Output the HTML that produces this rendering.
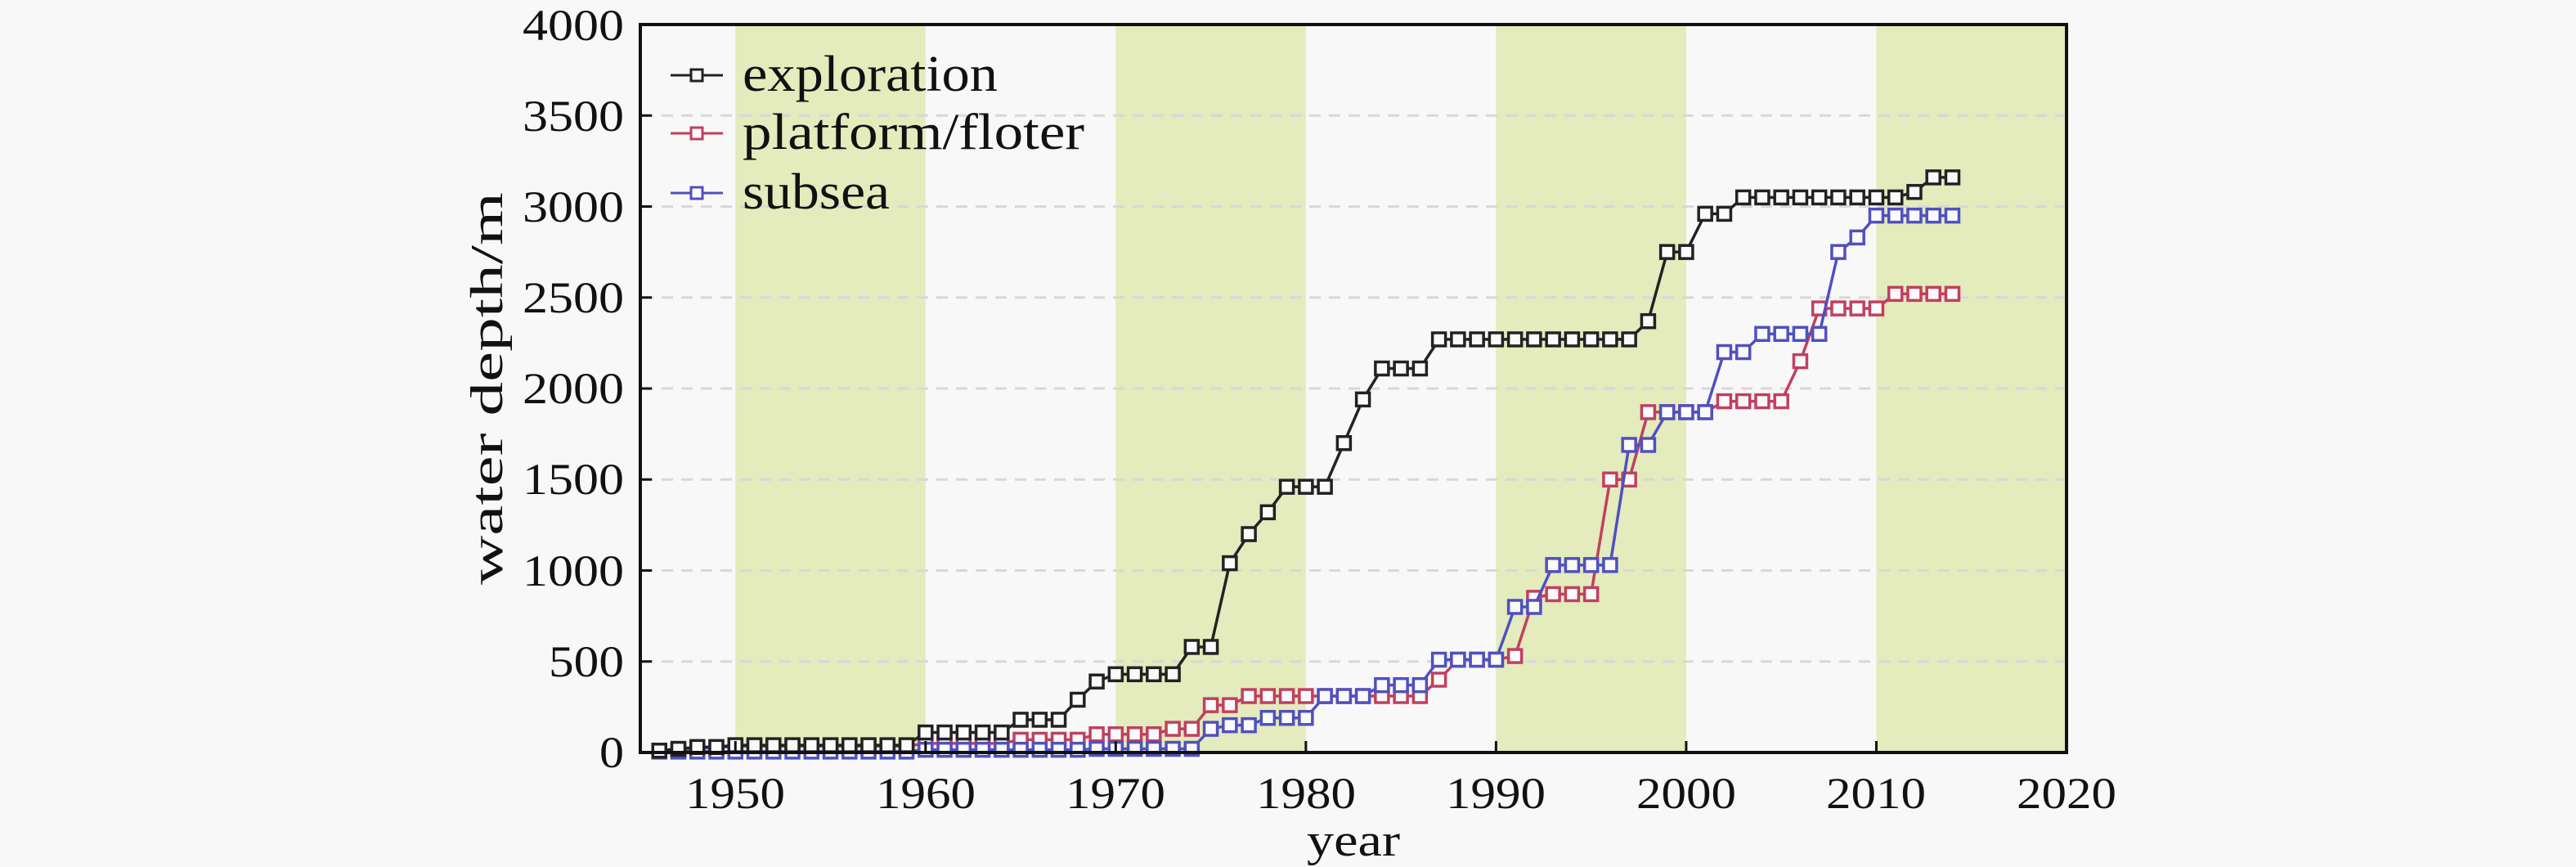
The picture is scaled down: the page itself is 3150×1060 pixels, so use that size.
<!DOCTYPE html>
<html><head><meta charset="utf-8"><style>
html,body{margin:0;padding:0;background:#f8f8f8;}
svg{display:block;}
text{font-family:"Liberation Serif",serif;fill:#111;}
</style></head><body>
<svg id="s" width="3150" height="1060" xmlns="http://www.w3.org/2000/svg">
<rect width="3150" height="1060" fill="#f8f8f8"/>
<g id="bands"></g>
<g id="grid"></g>
<g id="series"></g>
<rect x="783" y="30" width="1744" height="890" fill="none" stroke="#111" stroke-width="4"/>
<g id="ticks"></g>
<g font-size="54" text-anchor="end">
<text x="763" y="938" textLength="30" lengthAdjust="spacingAndGlyphs">0</text>
<text x="763" y="827" textLength="92" lengthAdjust="spacingAndGlyphs">500</text>
<text x="763" y="716" textLength="124" lengthAdjust="spacingAndGlyphs">1000</text>
<text x="763" y="604" textLength="124" lengthAdjust="spacingAndGlyphs">1500</text>
<text x="763" y="493" textLength="124" lengthAdjust="spacingAndGlyphs">2000</text>
<text x="763" y="382" textLength="124" lengthAdjust="spacingAndGlyphs">2500</text>
<text x="763" y="271" textLength="124" lengthAdjust="spacingAndGlyphs">3000</text>
<text x="763" y="160" textLength="124" lengthAdjust="spacingAndGlyphs">3500</text>
<text x="763" y="49" textLength="124" lengthAdjust="spacingAndGlyphs">4000</text>
</g>
<g font-size="54" text-anchor="middle">
<text x="899" y="988" textLength="122" lengthAdjust="spacingAndGlyphs">1950</text>
<text x="1132" y="988" textLength="122" lengthAdjust="spacingAndGlyphs">1960</text>
<text x="1364" y="988" textLength="122" lengthAdjust="spacingAndGlyphs">1970</text>
<text x="1597" y="988" textLength="122" lengthAdjust="spacingAndGlyphs">1980</text>
<text x="1829" y="988" textLength="122" lengthAdjust="spacingAndGlyphs">1990</text>
<text x="2062" y="988" textLength="122" lengthAdjust="spacingAndGlyphs">2000</text>
<text x="2294" y="988" textLength="122" lengthAdjust="spacingAndGlyphs">2010</text>
<text x="2527" y="988" textLength="122" lengthAdjust="spacingAndGlyphs">2020</text>
</g>
<text x="1655" y="1046" font-size="56" text-anchor="middle" textLength="114" lengthAdjust="spacingAndGlyphs">year</text>
<text transform="translate(614,475) rotate(-90)" font-size="56" text-anchor="middle" textLength="480" lengthAdjust="spacingAndGlyphs">water depth/m</text>
<g font-size="62">
<line x1="820" y1="92" x2="884" y2="92" stroke="#222" stroke-width="3"/><rect x="845" y="85" width="14" height="14" fill="#fff" stroke="#222" stroke-width="3"/>
<text x="908" y="111" textLength="312" lengthAdjust="spacingAndGlyphs">exploration</text>
<line x1="820" y1="163" x2="884" y2="163" stroke="#c04060" stroke-width="3"/><rect x="845" y="156" width="14" height="14" fill="#fff" stroke="#c04060" stroke-width="3"/>
<text x="908" y="182" textLength="418" lengthAdjust="spacingAndGlyphs">platform/floter</text>
<line x1="820" y1="236" x2="884" y2="236" stroke="#5050c0" stroke-width="3"/><rect x="845" y="229" width="14" height="14" fill="#fff" stroke="#5050c0" stroke-width="3"/>
<text x="908" y="255" textLength="180" lengthAdjust="spacingAndGlyphs">subsea</text>
</g>
</svg>
<script>
var NS="http://www.w3.org/2000/svg";
function X(y){return 783+(y-1945)*23.253;}
function Y(v){return 920-v*0.2225;}
function el(t,a,p){var e=document.createElementNS(NS,t);for(var k in a)e.setAttribute(k,a[k]);document.getElementById(p).appendChild(e);return e;}
[1950,1970,1990,2010].forEach(function(b){el('rect',{x:X(b),y:32,width:X(b+10)-X(b),height:886,fill:'#e4ebbc'},'bands');});
for(var v=500;v<4000;v+=500)el('line',{x1:785,x2:2525,y1:Y(v),y2:Y(v),stroke:'#d8d8d8','stroke-width':3,'stroke-dasharray':'14 10'},'grid');
for(var v=0;v<=4000;v+=500)el('line',{x1:783,x2:797,y1:Y(v),y2:Y(v),stroke:'#111','stroke-width':3},'ticks');
for(var y=1950;y<=2020;y+=10)el('line',{x1:X(y),x2:X(y),y1:920,y2:906,stroke:'#111','stroke-width':3},'ticks');
function expand(segs){var o={};segs.forEach(function(s){for(var y=s[0];y<=s[1];y++)o[y]=s[2];});return o;}
var ex=expand([[1946,1946,10],[1947,1947,20],[1948,1949,30],[1950,1959,40],[1960,1964,110],[1965,1967,180],[1968,1968,290],[1969,1969,390],[1970,1973,430],[1974,1975,580],[1976,1976,1040],[1977,1977,1200],[1978,1978,1320],[1979,1981,1460],[1982,1982,1700],[1983,1983,1940],[1984,1986,2110],[1987,1997,2270],[1998,1998,2370],[1999,2000,2750],[2001,2002,2960],[2003,2011,3050],[2012,2012,3080],[2013,2014,3160]]);
var pf=expand([[1946,1947,10],[1948,1949,25],[1950,1959,35],[1960,1964,50],[1965,1968,70],[1969,1972,100],[1973,1974,130],[1975,1976,260],[1977,1984,310],[1985,1986,310],[1987,1987,400],[1988,1990,510],[1991,1991,530],[1992,1992,850],[1993,1995,870],[1996,1997,1500],[1998,2001,1870],[2002,2005,1930],[2006,2006,2150],[2007,2010,2440],[2011,2014,2520]]);
var sb=expand([[1946,1959,5],[1960,1968,15],[1969,1974,20],[1975,1975,130],[1976,1977,150],[1978,1980,190],[1981,1983,310],[1984,1986,370],[1987,1990,510],[1991,1992,800],[1993,1996,1030],[1997,1998,1690],[1999,2001,1870],[2002,2003,2200],[2004,2007,2300],[2008,2008,2750],[2009,2009,2830],[2010,2014,2950]]);
function draw(d,c){var pts=[];for(var y=1946;y<=2014;y++)if(d[y]!==undefined)pts.push([X(y),Y(d[y])]);
el('polyline',{points:pts.map(function(p){return p.join(',');}).join(' '),fill:'none',stroke:c,'stroke-width':3.5},'series');
pts.forEach(function(p){el('rect',{x:p[0]-8,y:p[1]-8,width:16,height:16,fill:'#fafafa',stroke:c,'stroke-width':3.5},'series');});}
draw(pf,'#c04060');draw(sb,'#5050c0');draw(ex,'#222');
</script>
</body></html>
